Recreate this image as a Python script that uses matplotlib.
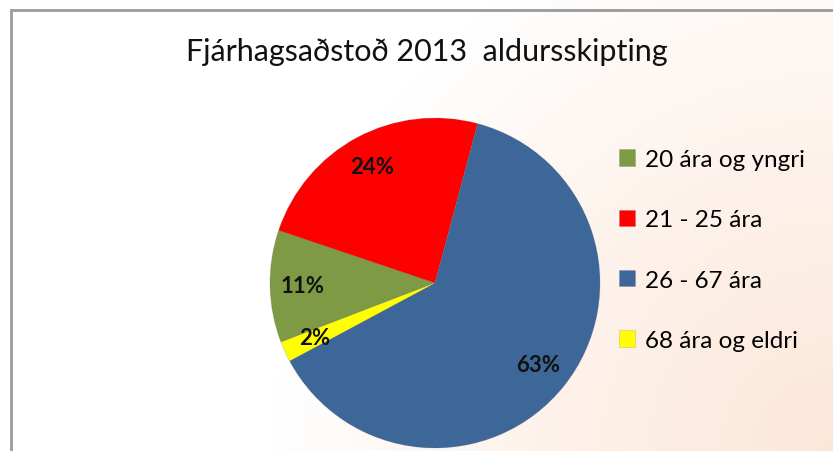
import numpy as np
import matplotlib
matplotlib.use("Agg")
import matplotlib.pyplot as plt
from matplotlib.patches import Rectangle

categories = ["20 ára og yngri", "21 - 25 ára", "26 - 67 ára", "68 ára og eldri"]
values = [11, 24, 63, 2]
colors = ["#7f9a45", "#ff0000", "#3d6699", "#ffff00"]
title = "Fjárhagsaðstoð 2013  aldursskipting"

plt.rcParams['font.family'] = ['Lato', 'DejaVu Sans']

W, H = 833, 452
fig = plt.figure(figsize=(W / 100, H / 100), dpi=100)

# background gradient (radial from bottom-right corner)
bg = fig.add_axes([0, 0, 1, 1])
bg.set_axis_off()
yy, xx = np.mgrid[0:1:226j, 0:1:417j]
d = np.hypot((1 - xx) * W, (1 - yy) * H)
t = np.clip(1 - d / 560, 0, 1) ** 0.9
c0 = np.array([1.0, 1.0, 1.0])
c1 = np.array([0.988, 0.905, 0.85])
img = c0[None, None, :] * (1 - t[..., None]) + c1[None, None, :] * t[..., None]
bg.imshow(img, extent=[0, 1, 0, 1], aspect='auto', origin='upper')
bg.set_xlim(0, 1)
bg.set_ylim(0, 1)
bg.add_patch(Rectangle((11 / W, -0.1), 1.2, 1 - 11 / H + 0.1, fill=False,
                       edgecolor="#9a9a9a", linewidth=2))

fig.text(427 / W, 1 - 52 / H, title, ha='center', va='center', fontsize=22,
         color='#111111')

cx, cy, R = 435, 284, 165
ax = fig.add_axes([(cx - R) / W, (H - cy - R) / H, 2 * R / W, 2 * R / H])
wedges, texts, autotexts = ax.pie(values, colors=colors, startangle=201,
                                  counterclock=False, autopct='%1.0f%%',
                                  pctdistance=0.8,
                                  wedgeprops=dict(edgecolor='#55555533', linewidth=0.6),
                                  textprops=dict(fontsize=16, fontweight='bold', color='#111111'))
ax.set_xlim(-1, 1)
ax.set_ylim(-1, 1)
ax.set_aspect('equal')
for w in wedges:
    w.set_clip_on(False)

fig.legend(wedges, categories, loc='upper left', bbox_to_anchor=(619 / W, 1 - 150 / H),
           frameon=False, fontsize=17.5, handlelength=0.65, handleheight=0.65,
           handletextpad=0.4, labelspacing=1.62, borderaxespad=0, borderpad=0)

fig.savefig("out.png", dpi=100)
